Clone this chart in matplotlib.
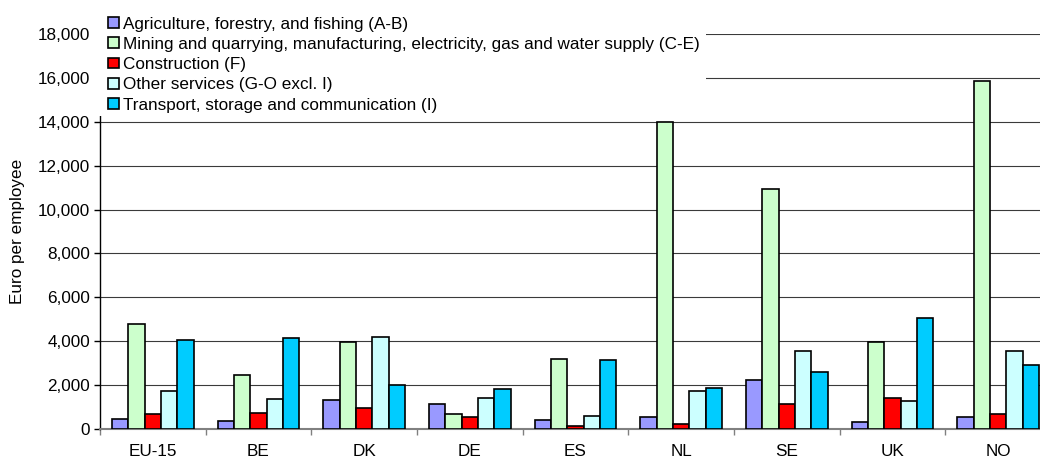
import matplotlib
matplotlib.use("Agg")
import matplotlib.pyplot as plt
from matplotlib.patches import Rectangle
from matplotlib.ticker import FuncFormatter, FixedLocator
import numpy as np

plt.rcParams["font.family"] = ["Liberation Sans", "DejaVu Sans"]

countries = ["EU-15", "BE", "DK", "DE", "ES", "NL", "SE", "UK", "NO"]

sectors = [
    "Agriculture, forestry, and fishing (A-B)",
    "Mining and quarrying, manufacturing, electricity, gas and water supply (C-E)",
    "Construction (F)",
    "Other services (G-O excl. I)",
    "Transport, storage and communication (I)",
]

agriculture = [430, 350, 1315, 1130, 410, 550, 2240, 290, 550]
mining_manufacturing = [4790, 2460, 3955, 660, 3160, 14000, 10930, 3955, 15870]
construction = [660, 720, 935, 550, 120, 215, 1145, 1405, 660]
other_services = [1740, 1375, 4180, 1405, 595, 1710, 3525, 1270, 3525]
transport = [4045, 4140, 1985, 1800, 3145, 1850, 2595, 5050, 2885]

series = [agriculture, mining_manufacturing, construction, other_services, transport]
colors = ["#9999FF", "#CCFFCC", "#FF0000", "#CCFFFF", "#00CCFF"]

W, H = 1040, 459
fig = plt.figure(figsize=(W / 100, H / 100), dpi=100)
ax = fig.add_axes([100 / W, 30.3 / H, 951 / W, 394.4 / H])

fs = 12.3
x = np.arange(len(countries))
bw = 0.155
handles = []
for j, (vals, col) in enumerate(zip(series, colors)):
    b = ax.bar(x + (j - 2) * bw, vals, width=bw, color=col,
               edgecolor="black", linewidth=1.2, zorder=3)
    handles.append(b)

ax.set_xlim(-0.5, len(countries) - 0.5)
ax.set_ylim(0, 18000)
ax.set_yticks(np.arange(0, 18001, 2000))
ax.yaxis.set_major_formatter(FuncFormatter(lambda v, p: f"{int(v):,}"))
ax.yaxis.grid(True, color="#3a3a3a", linewidth=0.8, zorder=0)
ax.set_axisbelow(True)

# category labels at centres, tick marks on the boundaries
ax.set_xticks(x)
ax.set_xticklabels(countries, fontsize=fs)
ax.tick_params(axis="x", which="major", length=0, pad=11)
ax.xaxis.set_minor_locator(FixedLocator(np.arange(-0.5, len(countries), 1.0)))
ax.tick_params(axis="x", which="minor", length=4, color="#808080", width=1.0)
ax.tick_params(axis="y", labelsize=fs, length=4.2, width=1.0, pad=3)

for s in ["top", "right"]:
    ax.spines[s].set_visible(False)
ax.spines["left"].set_color("black")
ax.spines["left"].set_linewidth(1.0)
ax.spines["bottom"].set_color("#808080")
ax.spines["bottom"].set_linewidth(1.5)

ax.set_ylabel("Euro per employee", fontsize=fs, labelpad=9)

# white backing behind the legend block
fig.add_artist(Rectangle((89 / W, (H - 116) / H), 617 / W, 116 / H,
                         transform=fig.transFigure, facecolor="white",
                         edgecolor="none", zorder=4))
fig.legend(handles, sectors, loc="upper left",
           bbox_to_anchor=(108.3 / W, (H - 16.5) / H),
           frameon=False, fontsize=fs, borderpad=0, borderaxespad=0,
           handlelength=0.6, handleheight=0.6, handletextpad=0.28,
           labelspacing=0.31)

fig.savefig("out.png", dpi=100)
